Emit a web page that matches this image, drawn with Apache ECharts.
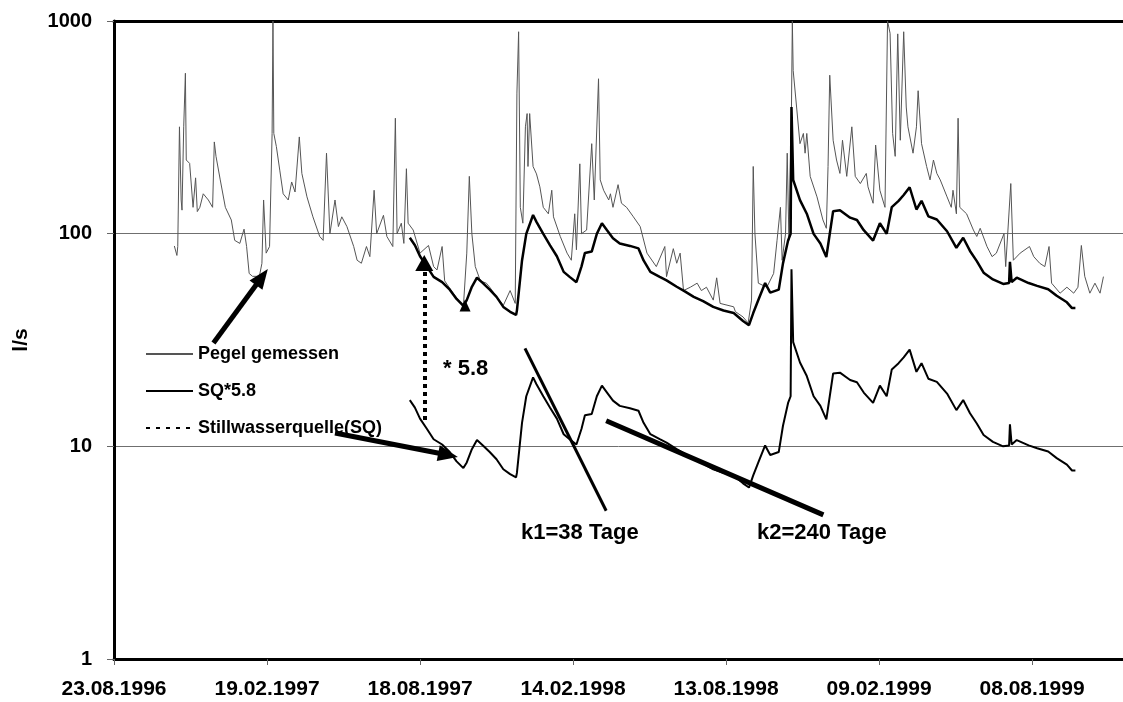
<!DOCTYPE html>
<html>
<head>
<meta charset="utf-8">
<script src="https://cdn.jsdelivr.net/npm/echarts@6.0.0/dist/echarts.min.js"></script>
<style>
  html, body { margin: 0; padding: 0; background: #fff; }
  #chart { width: 1123px; height: 702px; }
</style>
</head>
<body>
<div id="chart"></div>
<script>
// x = days since 23.08.1996, ticks every 180 days
const tickLabels = ['23.08.1996', '19.02.1997', '18.08.1997', '14.02.1998', '13.08.1998', '09.02.1999', '08.08.1999']
const tickStep = 180
const yTicks = [1, 10, 100, 1000]

// Pegel gemessen (l/s)
const pegelDay = [
  71, 74, 75, 77, 79, 80, 82, 84, 85, 89,
  93, 96, 98, 101, 105, 111, 116, 118, 120, 122,
  125, 131, 138, 142, 148, 153, 156, 159, 163, 171,
  174, 176, 179, 183, 186, 187, 188, 191, 195, 199,
  205, 209, 213, 218, 221, 227, 234, 242, 246, 250,
  254, 260, 264, 268, 274, 282, 286, 291, 297, 301,
  306, 309, 317, 321, 328, 331, 333, 338, 341, 344,
  346, 352, 360, 370, 376, 380, 386, 389, 399, 411,
  415, 418, 421, 425, 431, 438, 442, 450, 458, 466,
  472, 474, 476, 478, 481, 484, 486, 487, 489, 493,
  497, 501, 505, 511, 515, 517, 525, 533, 538, 542,
  544, 548, 550, 556, 562, 565, 570, 572, 576, 582,
  584, 587, 593, 597, 603, 611, 619, 627, 638, 648,
  650, 658, 662, 666, 670, 678, 686, 691, 697, 705,
  709, 713, 729, 731, 740, 746, 750, 752, 754, 758,
  768, 776, 780, 784, 786, 790, 792, 794, 797, 798,
  799, 803, 807, 811, 813, 815, 819, 827, 834, 838,
  840, 842, 846, 850, 854, 857, 862, 868, 872, 878,
  885, 887, 893, 896, 901, 907, 910, 913, 916, 919,
  922, 925, 929, 932, 934, 940, 944, 946, 950, 956,
  960, 964, 968, 972, 980, 985, 987, 991, 993, 995,
  1003, 1011, 1015, 1019, 1027, 1033, 1038, 1047, 1049, 1055,
  1058, 1066, 1077, 1082, 1089, 1095, 1100, 1103, 1113, 1121,
  1129, 1134, 1138, 1142, 1148, 1154, 1160, 1164
]
const pegelQ = [
  87.5, 79, 87, 318, 144, 129, 318, 568, 222, 214,
  133, 183, 127, 133, 154, 144, 133, 270, 231, 234,
  179, 133, 116, 93, 90, 105, 87, 65, 63, 63,
  72.5, 144, 81, 87, 296, 1000, 296, 257, 199, 154,
  144, 175, 157, 285, 192, 149, 120, 97, 93, 239,
  100, 144, 108, 120, 108, 87, 75, 72.6, 87, 78,
  160, 100, 122, 97, 87, 349, 100, 112, 90, 202,
  112, 104, 81, 88, 70, 67.5, 87, 60, 52.5, 45.3,
  81, 186, 100, 70, 60, 58.5, 56, 50.6, 46, 54,
  47, 458, 890, 133, 112, 318, 367, 207, 367, 207,
  191, 166, 133, 124, 160, 120, 97, 81, 75, 124,
  84, 213, 100, 104, 265, 144, 535, 179, 160, 144,
  154, 133, 170, 139, 133, 120, 108, 81, 70, 87,
  62.8, 85, 72.6, 81, 54, 56, 58.5, 54, 56, 48.7,
  62, 47, 45.3, 43, 40.6, 38, 48.7, 207, 100, 58.5,
  56, 65, 93, 133, 75, 100, 239, 93, 394, 1000,
  585, 394, 265, 296, 239, 296, 186, 149, 116, 106,
  207, 556, 275, 222, 192, 275, 186, 318, 186, 172,
  192, 166, 139, 261, 160, 133, 1000, 875, 296, 231,
  870, 275, 890, 394, 318, 239, 318, 470, 265, 207,
  179, 222, 192, 179, 149, 133, 160, 124, 349, 133,
  124, 104, 97, 106, 87, 78, 81, 100, 70, 172,
  75, 81, 87, 78, 72.6, 70, 87, 58.5, 52.5, 56,
  52.5, 56, 88, 63, 52.5, 58.5, 52.5, 62.8
]

// Stillwasserquelle (SQ), l/s
const sqDay = [
  348, 354, 360, 368, 376, 386, 395, 403, 411, 415,
  421, 427, 434, 442, 450, 458, 466, 473, 474, 480,
  485, 493, 497, 505, 513, 521, 529, 536, 544, 550,
  554, 562, 568, 574, 580, 587, 595, 607, 617, 623,
  631, 642, 650, 662, 672, 682, 693, 705, 717, 729,
  740, 747, 752, 758, 766, 772, 782, 787, 793, 796,
  797, 799, 807, 815, 823, 831, 838, 846, 854, 866,
  874, 882, 893, 901, 909, 915, 923, 929, 936, 944,
  950, 958, 968, 980, 991, 999, 1007, 1015, 1023, 1034,
  1046, 1053, 1054, 1056, 1062, 1076, 1086, 1099, 1109, 1121,
  1127, 1131
]
const sqQ = [
  16.5, 15.2, 13.5, 12.1, 10.8, 10.2, 9.4, 8.5, 7.9, 8.4,
  9.7, 10.7, 10.1, 9.4, 8.7, 7.8, 7.4, 7.15, 7.5, 12.9,
  17.2, 21.1, 19.6, 17.2, 15.2, 13.5, 11.4, 10.8, 10.2, 12.1,
  14, 14.2, 17.2, 19.3, 17.9, 16.4, 15.5, 15.1, 14.7, 12.9,
  11.4, 10.8, 10.4, 9.7, 9.2, 8.7, 8.3, 7.8, 7.5, 7.3,
  6.7, 6.4, 7.3, 8.4, 10.1, 9.1, 9.4, 12.5, 16, 17.2,
  68, 30.9, 24.8, 21.4, 17.2, 15.5, 13.4, 22, 22.2, 20.5,
  20, 17.9, 16, 19.3, 17.2, 23, 24.6, 26.2, 28.5, 22.4,
  24.6, 20.8, 20.1, 17.7, 14.8, 16.5, 14.3, 12.8, 11.3, 10.5,
  10, 10.1, 12.7, 10.2, 10.7, 10.1, 9.8, 9.45, 8.8, 8.2,
  7.7, 7.7
]
const sqFactor = 5.8

const FONT = '"Liberation Sans", Arial, sans-serif'
const bold = (size) => ({ fontFamily: FONT, fontWeight: 'bold', fontSize: size, color: '#000' })

const pegel = pegelDay.map((d, i) => [d, pegelQ[i]])
const sq = sqDay.map((d, i) => [d, sqQ[i]])
const sqScaled = sqDay.map((d, i) => [d, sqQ[i] * sqFactor])
const xTickValues = tickLabels.map((t, i) => i * tickStep)

const chart = echarts.init(document.getElementById('chart'))

const thick = (w, type) => ({ color: '#000', width: w, type: type || 'solid' })

const option = {
    animation: false,
    grid: { left: 114, top: 21, right: 0, bottom: 43 },
    legend: {
        orient: 'vertical',
        left: 145,
        top: 345,
        padding: 0,
        itemWidth: 47,
        itemHeight: 14,
        itemGap: 19,
        selectedMode: false,
        itemStyle: { opacity: 0 },
        textStyle: bold(18),
        data: [
            { name: 'Pegel gemessen' },
            { name: 'SQ*5.8' },
            { name: 'Stillwasserquelle(SQ)', lineStyle: { type: [4, 6], width: 2, color: '#000' } }
        ]
    },
    xAxis: [
        {
            type: 'value',
            min: 0,
            max: 1187,
            interval: tickStep,
            axisLine: { onZero: false, lineStyle: { color: '#000', width: 3 } },
            axisTick: { length: 6, customValues: xTickValues, lineStyle: { color: '#666', width: 1 } },
            axisLabel: Object.assign(bold(21), {
                margin: 20,
                customValues: xTickValues,
                formatter: v => tickLabels[Math.round(v / tickStep)] || ''
            }),
            splitLine: { show: false }
        },
        {
            type: 'value',
            position: 'top',
            min: 0,
            max: 1187,
            axisLine: { onZero: false, lineStyle: { color: '#000', width: 3 } },
            axisTick: { show: false },
            axisLabel: { show: false },
            splitLine: { show: false }
        }
    ],
    yAxis: {
        type: 'log',
        logBase: 10,
        min: 1,
        max: 1000,
        name: 'l/s',
        nameLocation: 'middle',
        nameGap: 82,
        nameTextStyle: bold(21),
        axisLine: { show: true, onZero: false, lineStyle: { color: '#000', width: 3 } },
        axisTick: { show: true, length: 7, customValues: yTicks, lineStyle: { color: '#666', width: 1 } },
        axisLabel: Object.assign(bold(20), { margin: 22, customValues: yTicks, formatter: v => String(Math.round(v)) }),
        splitLine: { show: true, lineStyle: { color: '#6f6f6f', width: 1 } }
    },
    graphic: [
        { type: 'text', left: 443, top: 358, style: { text: '* 5.8', font: 'bold 22px ' + FONT, fill: '#000' } },
        { type: 'text', left: 521, top: 522, style: { text: 'k1=38 Tage', font: 'bold 22px ' + FONT, fill: '#000' } },
        { type: 'text', left: 757, top: 522, style: { text: 'k2=240 Tage', font: 'bold 22px ' + FONT, fill: '#000' } }
    ],
    series: [
        {
            name: 'Pegel gemessen',
            type: 'line',
            data: pegel,
            symbol: 'none',
            z: 2,
            itemStyle: { color: '#555' },
            lineStyle: { color: '#555', width: 1 }
        },
        {
            name: 'SQ*5.8',
            type: 'line',
            data: sqScaled,
            symbol: 'none',
            z: 3,
            itemStyle: { color: '#000' },
            lineStyle: { color: '#000', width: 2.5 }
        },
        {
            name: 'Stillwasserquelle(SQ)',
            type: 'line',
            data: sq,
            symbol: 'none',
            z: 3,
            itemStyle: { color: '#000' },
            lineStyle: { color: '#000', width: 2 },
            markLine: {
                silent: true,
                animation: false,
                label: { show: false },
                emphasis: { disabled: true },
                data: [
                    // arrow to Pegel
                    [{ coord: [117, 30.6], symbol: 'none', lineStyle: thick(5) },
                     { coord: [174, 62.5], symbol: 'triangle', symbolSize: [16, 20], lineStyle: thick(5) }],
                    // * 5.8 dotted arrow
                    [{ coord: [365, 13.3], symbol: 'none', lineStyle: thick(4, [4, 4]) },
                     { coord: [365, 72.8], symbol: 'triangle', symbolSize: [18, 16], lineStyle: thick(4, [4, 4]) }],
                    // arrow to SQ
                    [{ coord: [260, 11.55], symbol: 'none', lineStyle: thick(5) },
                     { coord: [393, 9.1], symbol: 'triangle', symbolSize: [16, 20], lineStyle: thick(5) }],
                    // k1 slope
                    [{ coord: [483.5, 28.9], symbol: 'none', lineStyle: thick(3) },
                     { coord: [579, 4.98], symbol: 'none', lineStyle: thick(3) }],
                    // k2 slope
                    [{ coord: [579, 13.2], symbol: 'none', lineStyle: thick(5) },
                     { coord: [834.5, 4.76], symbol: 'none', lineStyle: thick(5) }]
                ]
            },
            markPoint: {
                silent: true,
                animation: false,
                label: { show: false },
                data: [
                    { coord: [413, 46], symbol: 'triangle', symbolSize: [11, 12], itemStyle: { color: '#000' } }
                ]
            }
        }
    ]
}

option && chart.setOption(option)
</script>
</body>
</html>
